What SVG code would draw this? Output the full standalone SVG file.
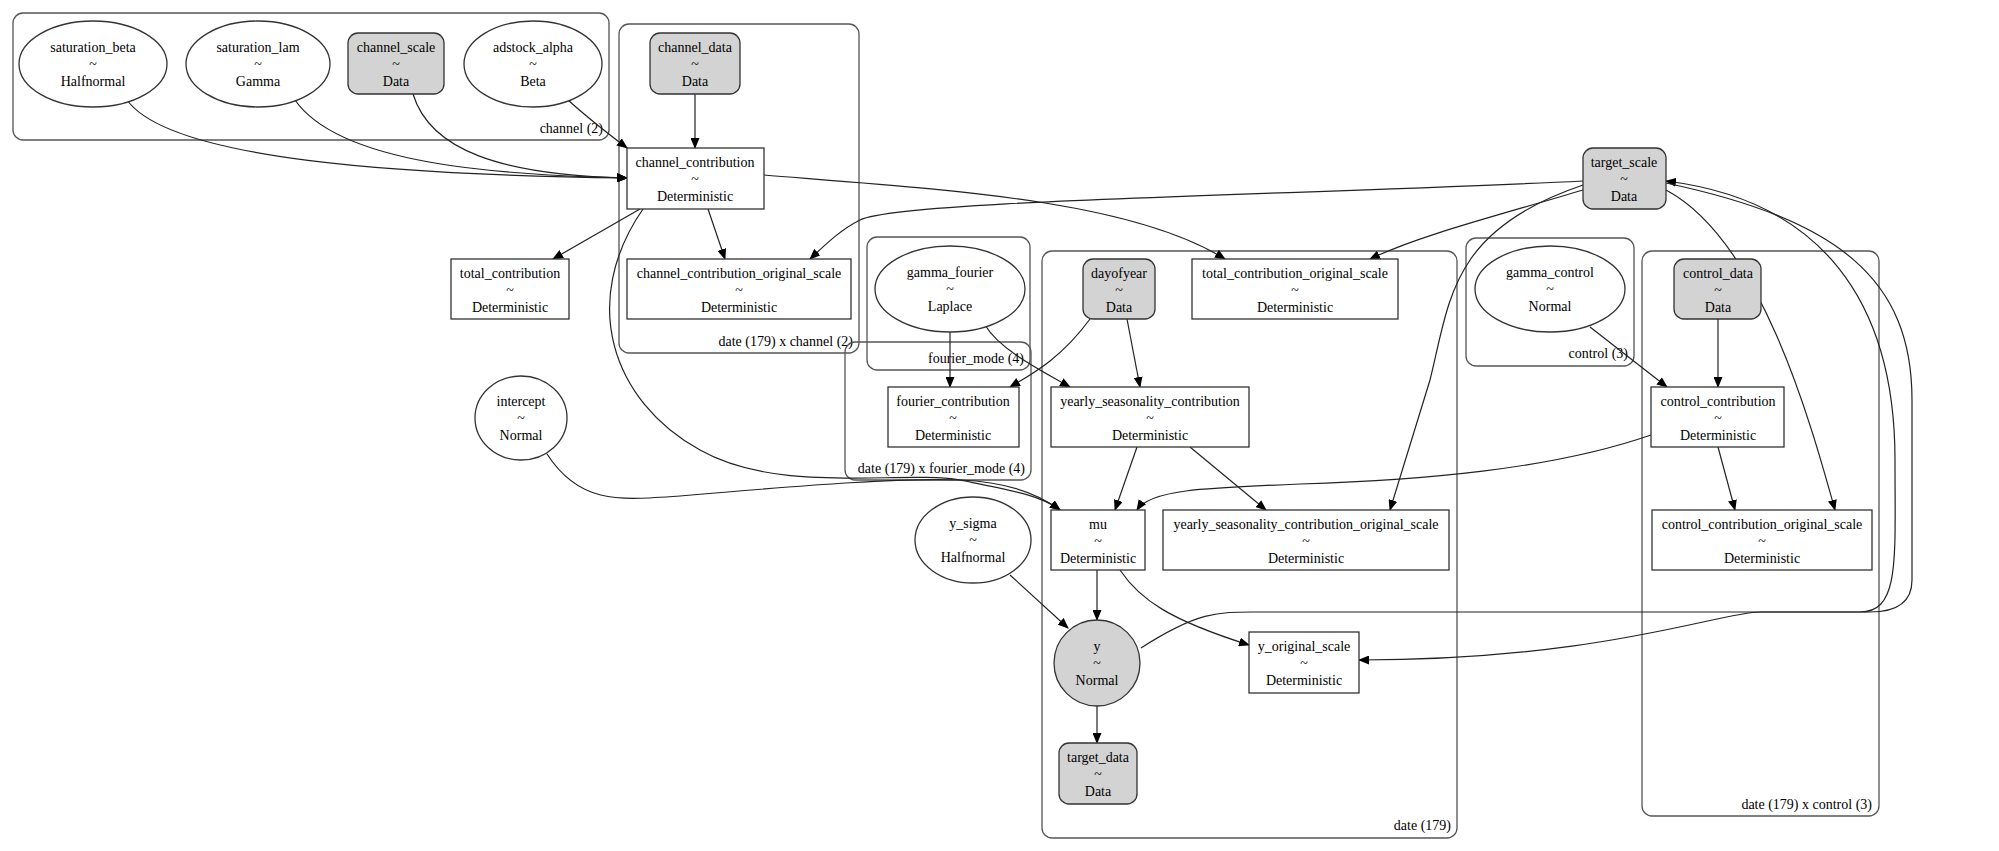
<svg xmlns="http://www.w3.org/2000/svg" width="1999" height="851" viewBox="0 0 1999 851">
<style>
text{font-family:"Liberation Serif","Times New Roman",serif;font-size:14px;fill:#000;text-anchor:middle}
.cl{fill:none;stroke:#555;stroke-width:1.3}
.cll{text-anchor:end}
.n{fill:#fff;stroke:#333;stroke-width:1.3}
.d{fill:#d3d3d3;stroke:#333;stroke-width:1.3}
.e{fill:none;stroke:#222;stroke-width:1.2;marker-end:url(#a)}
</style>
<defs><marker id="a" markerWidth="11" markerHeight="9" refX="10" refY="4.5" orient="auto" markerUnits="userSpaceOnUse"><path d="M0,0L11,4.5L0,9z" fill="#000"/></marker></defs>
<rect width="1999" height="851" fill="#fff"/>
<g id="clusters">
<rect class="cl" x="13" y="13" width="596" height="127" rx="10"/><text class="cll" x="603" y="133">channel (2)</text>
<rect class="cl" x="619" y="24" width="240" height="329" rx="10"/><text class="cll" x="853" y="346">date (179) x channel (2)</text>
<rect class="cl" x="867" y="237" width="163" height="133" rx="10"/><text class="cll" x="1024" y="363">fourier_mode (4)</text>
<rect class="cl" x="845" y="342" width="186" height="138" rx="10"/><text class="cll" x="1025" y="473">date (179) x fourier_mode (4)</text>
<rect class="cl" x="1042" y="251" width="415" height="587" rx="10"/><text class="cll" x="1451" y="830">date (179)</text>
<rect class="cl" x="1466" y="238" width="168" height="128" rx="10"/><text class="cll" x="1628" y="358">control (3)</text>
<rect class="cl" x="1642" y="251" width="237" height="565" rx="10"/><text class="cll" x="1872" y="809">date (179) x control (3)</text>
</g>
<g id="edges">
<path class="e" d="M127,100C170,160 400,175 627,178"/>
<path class="e" d="M295,100C340,165 500,175 627,178"/>
<path class="e" d="M413,94C430,150 500,175 627,178"/>
<path class="e" d="M568,100C590,120 610,135 627,148"/>
<path class="e" d="M695,94L695,148"/>
<path class="e" d="M640,209L553,259"/>
<path class="e" d="M708,209L725,259"/>
<path class="e" d="M764,175C950,190 1130,200 1225,259"/>
<path class="e" d="M643,209C580,300 610,400 700,450C780,495 900,470 960,480C1010,490 1040,495 1060,510"/>
<path class="e" d="M1583,181C1300,195 900,200 860,220C840,230 825,245 810,259"/>
<path class="e" d="M1583,190C1500,215 1420,235 1370,259"/>
<path class="e" d="M1583,185C1450,230 1450,300 1430,380L1390,510"/>
<path class="e" d="M1666,190C1760,240 1810,420 1835,510"/>
<path class="e" d="M1141,648C1200,610 1220,612 1260,612L1860,612C1900,612 1895,560 1895,460C1895,300 1820,200 1666,181"/>
<path class="e" d="M1666,183C1840,220 1912,280 1912,400L1912,580C1912,600 1900,612 1870,612L1760,612C1720,612 1600,660 1359,660"/>
<path class="e" d="M950,332L950,387"/>
<path class="e" d="M985,325C1000,350 1040,370 1070,387"/>
<path class="e" d="M1090,319C1060,360 1030,375 1010,387"/>
<path class="e" d="M1127,319L1140,387"/>
<path class="e" d="M1137,447L1115,510"/>
<path class="e" d="M1190,447L1266,510"/>
<path class="e" d="M547,454C580,505 620,500 680,496C820,484 900,478 960,480C1010,482 1040,495 1060,510"/>
<path class="e" d="M1651,435C1550,470 1420,480 1300,484C1200,488 1150,490 1137,510"/>
<path class="e" d="M1590,327L1667,387"/>
<path class="e" d="M1718,319L1718,387"/>
<path class="e" d="M1718,447L1735,510"/>
<path class="e" d="M1097,570L1097,620"/>
<path class="e" d="M1010,575L1068,628"/>
<path class="e" d="M1120,570C1140,600 1170,620 1249,645"/>
<path class="e" d="M1097,705L1097,743"/>
</g>
<g id="saturation_beta"><ellipse class="n" cx="93" cy="64" rx="74" ry="43"/><text x="93" y="52">saturation_beta</text><text x="93" y="69">~</text><text x="93" y="86">Halfnormal</text></g>
<g id="saturation_lam"><ellipse class="n" cx="258" cy="64" rx="72" ry="43"/><text x="258" y="52">saturation_lam</text><text x="258" y="69">~</text><text x="258" y="86">Gamma</text></g>
<g id="channel_scale"><rect class="d" x="348" y="33" width="96" height="61" rx="10"/><text x="396" y="52">channel_scale</text><text x="396" y="69">~</text><text x="396" y="86">Data</text></g>
<g id="adstock_alpha"><ellipse class="n" cx="533" cy="64" rx="69" ry="43"/><text x="533" y="52">adstock_alpha</text><text x="533" y="69">~</text><text x="533" y="86">Beta</text></g>
<g id="channel_data"><rect class="d" x="650" y="33" width="90" height="61" rx="10"/><text x="695" y="52">channel_data</text><text x="695" y="69">~</text><text x="695" y="86">Data</text></g>
<g id="channel_contribution"><rect class="n" x="627" y="148" width="137" height="61"/><text x="695" y="167">channel_contribution</text><text x="695" y="184">~</text><text x="695" y="201">Deterministic</text></g>
<g id="total_contribution"><rect class="n" x="451" y="259" width="118" height="60"/><text x="510" y="278">total_contribution</text><text x="510" y="295">~</text><text x="510" y="312">Deterministic</text></g>
<g id="channel_contribution_original_scale"><rect class="n" x="627" y="259" width="224" height="60"/><text x="739" y="278">channel_contribution_original_scale</text><text x="739" y="295">~</text><text x="739" y="312">Deterministic</text></g>
<g id="target_scale"><rect class="d" x="1583" y="148" width="83" height="61" rx="10"/><text x="1624" y="167">target_scale</text><text x="1624" y="184">~</text><text x="1624" y="201">Data</text></g>
<g id="gamma_fourier"><ellipse class="n" cx="950" cy="289" rx="75" ry="43"/><text x="950" y="277">gamma_fourier</text><text x="950" y="294">~</text><text x="950" y="311">Laplace</text></g>
<g id="dayofyear"><rect class="d" x="1083" y="259" width="72" height="60" rx="10"/><text x="1119" y="278">dayofyear</text><text x="1119" y="295">~</text><text x="1119" y="312">Data</text></g>
<g id="total_contribution_original_scale"><rect class="n" x="1192" y="259" width="206" height="60"/><text x="1295" y="278">total_contribution_original_scale</text><text x="1295" y="295">~</text><text x="1295" y="312">Deterministic</text></g>
<g id="gamma_control"><ellipse class="n" cx="1550" cy="289" rx="75" ry="43"/><text x="1550" y="277">gamma_control</text><text x="1550" y="294">~</text><text x="1550" y="311">Normal</text></g>
<g id="control_data"><rect class="d" x="1674" y="259" width="87" height="60" rx="10"/><text x="1718" y="278">control_data</text><text x="1718" y="295">~</text><text x="1718" y="312">Data</text></g>
<g id="intercept"><ellipse class="n" cx="521" cy="418" rx="46" ry="42"/><text x="521" y="406">intercept</text><text x="521" y="423">~</text><text x="521" y="440">Normal</text></g>
<g id="fourier_contribution"><rect class="n" x="888" y="387" width="131" height="60"/><text x="953" y="406">fourier_contribution</text><text x="953" y="423">~</text><text x="953" y="440">Deterministic</text></g>
<g id="yearly_seasonality_contribution"><rect class="n" x="1051" y="387" width="198" height="60"/><text x="1150" y="406">yearly_seasonality_contribution</text><text x="1150" y="423">~</text><text x="1150" y="440">Deterministic</text></g>
<g id="control_contribution"><rect class="n" x="1651" y="387" width="133" height="60"/><text x="1718" y="406">control_contribution</text><text x="1718" y="423">~</text><text x="1718" y="440">Deterministic</text></g>
<g id="y_sigma"><ellipse class="n" cx="973" cy="540" rx="58" ry="43"/><text x="973" y="528">y_sigma</text><text x="973" y="545">~</text><text x="973" y="562">Halfnormal</text></g>
<g id="mu"><rect class="n" x="1051" y="510" width="94" height="60"/><text x="1098" y="529">mu</text><text x="1098" y="546">~</text><text x="1098" y="563">Deterministic</text></g>
<g id="yearly_seasonality_contribution_original_scale"><rect class="n" x="1163" y="510" width="286" height="60"/><text x="1306" y="529">yearly_seasonality_contribution_original_scale</text><text x="1306" y="546">~</text><text x="1306" y="563">Deterministic</text></g>
<g id="control_contribution_original_scale"><rect class="n" x="1652" y="510" width="220" height="60"/><text x="1762" y="529">control_contribution_original_scale</text><text x="1762" y="546">~</text><text x="1762" y="563">Deterministic</text></g>
<g id="y"><ellipse class="d" cx="1097" cy="663" rx="43" ry="43"/><text x="1097" y="651">y</text><text x="1097" y="668">~</text><text x="1097" y="685">Normal</text></g>
<g id="y_original_scale"><rect class="n" x="1249" y="632" width="110" height="61"/><text x="1304" y="651">y_original_scale</text><text x="1304" y="668">~</text><text x="1304" y="685">Deterministic</text></g>
<g id="target_data"><rect class="d" x="1059" y="743" width="78" height="61" rx="10"/><text x="1098" y="762">target_data</text><text x="1098" y="779">~</text><text x="1098" y="796">Data</text></g>
</svg>
